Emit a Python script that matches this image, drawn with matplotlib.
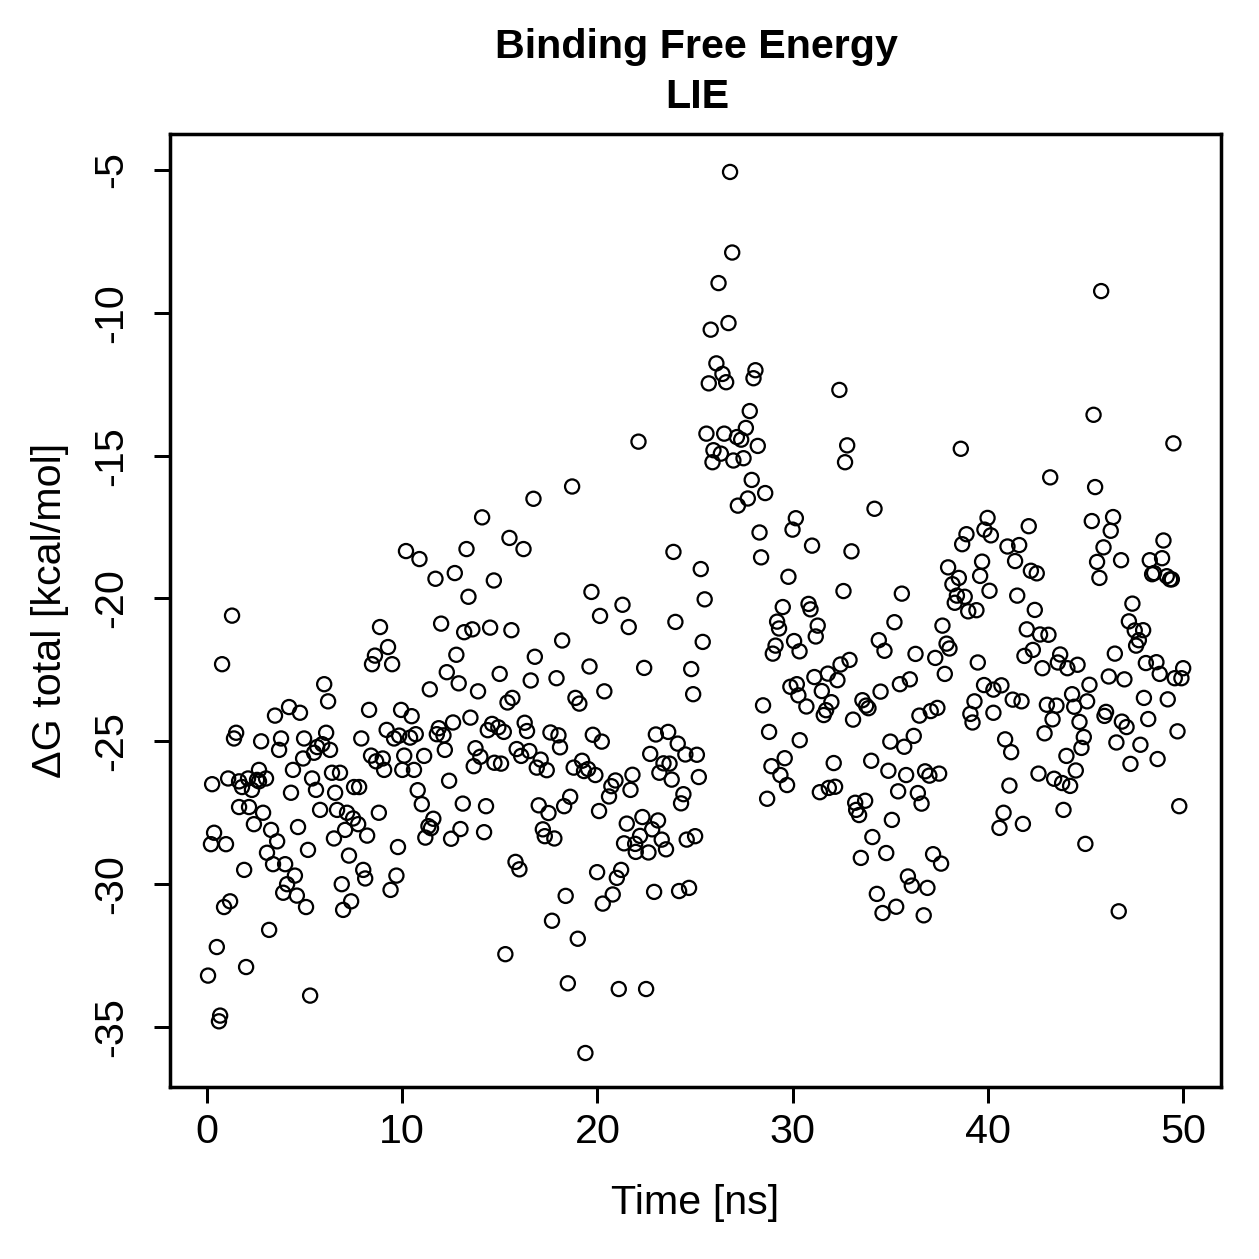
import matplotlib
matplotlib.use("Agg")
import matplotlib.pyplot as plt

# time [ns] and dG total [kcal/mol], 0-10 ns
t_a = [0.05, 0.2, 0.26, 0.36, 0.5, 0.61, 0.67, 0.77, 0.87, 0.97, 1.08, 1.18, 1.28, 1.38, 1.49,
       1.64, 1.64, 1.79, 1.9, 2.0, 2.1, 2.15, 2.3, 2.4, 2.56, 2.66, 2.66, 2.77, 2.87, 3.02,
       3.07, 3.18, 3.28, 3.38, 3.48, 3.59, 3.69, 3.79, 3.9, 4.0, 4.1, 4.2, 4.3, 4.4, 4.5,
       4.6, 4.66, 4.76, 4.92, 4.97, 5.07, 5.17, 5.28, 5.38, 5.48, 5.58, 5.64, 5.79, 5.9, 6.0,
       6.1, 6.2, 6.3, 6.4, 6.5, 6.56, 6.66, 6.81, 6.9, 6.97, 7.07, 7.17, 7.27, 7.38, 7.48,
       7.53, 7.74, 7.79, 7.9, 8.0, 8.1, 8.2, 8.3, 8.4, 8.45, 8.6, 8.66, 8.8, 8.86, 9.0,
       9.07, 9.2, 9.27, 9.4, 9.48, 9.58, 9.7, 9.78, 9.84, 9.94, 10.0, 10.1]
dg_a = [-33.2, -28.6, -26.5, -28.2, -32.2, -34.8, -34.6, -22.3, -30.8, -28.6, -26.3, -30.6, -20.6, -24.9, -24.7,
        -26.4, -27.3, -26.6, -29.5, -32.9, -26.3, -27.3, -26.7, -27.9, -26.35, -26.0, -26.4, -25.0, -27.5, -26.3,
        -28.9, -31.6, -28.1, -29.3, -24.1, -28.5, -25.3, -24.9, -30.3, -29.3, -30.0, -23.8, -26.8, -26.0, -29.7,
        -30.4, -28.0, -24.0, -25.6, -24.9, -30.8, -28.8, -33.9, -26.3, -25.4, -26.7, -25.2, -27.4, -25.1, -23.0,
        -24.7, -23.6, -25.3, -26.1, -28.4, -26.8, -27.4, -26.1, -30.0, -30.9, -28.1, -27.5, -29.0, -30.6, -27.7,
        -26.6, -27.9, -26.6, -24.9, -29.5, -29.8, -28.3, -23.9, -25.5, -22.3, -22.0, -25.7, -27.5, -21.0, -25.6,
        -26.0, -24.6, -21.7, -30.2, -22.3, -24.9, -29.7, -28.7, -24.8, -23.9, -26.0, -25.5]

# 10-20 ns
t_b = [18.70, 16.72, 14.09, 15.49, 16.21, 10.19, 10.88, 13.29, 12.69, 11.70, 14.69, 13.39, 19.69, 20.13,
       11.99, 13.17, 13.59, 14.50, 15.59, 18.19, 12.77, 16.79, 12.28, 12.89, 14.99, 19.59, 11.41, 13.88,
       16.58, 17.90, 15.64, 15.39, 18.87, 19.07, 20.35, 10.48, 12.60, 13.49, 11.87, 11.77, 12.11, 10.40,
       10.69, 14.38, 14.60, 14.92, 15.20, 16.27, 16.39, 17.59, 18.00, 18.08, 19.76, 20.22, 12.18, 13.75,
       14.00, 13.66, 14.72, 15.06, 15.86, 16.09, 16.51, 17.09, 16.89, 17.40, 18.78, 19.21, 19.31, 19.52,
       19.89, 11.12, 10.60, 12.40, 10.79, 11.00, 13.10, 14.29, 11.59, 11.34, 11.47, 11.18, 12.98, 12.50,
       14.19, 16.99, 17.49, 18.29, 18.60, 17.20, 17.30, 17.79, 20.08, 15.80, 16.00, 19.98, 18.37, 20.27,
       17.67, 18.99, 15.28, 18.48, 19.38]
dg_b = [-16.08, -16.51, -17.16, -17.88, -18.27, -18.34, -18.62, -18.27, -19.11, -19.31, -19.37, -19.94, -19.77, -20.61,
        -20.88, -21.18, -21.08, -21.02, -21.11, -21.47, -21.97, -22.04, -22.58, -22.97, -22.64, -22.38, -23.18, -23.25,
        -22.87, -22.79, -23.48, -23.64, -23.48, -23.68, -23.25, -24.12, -24.34, -24.17, -24.54, -24.75, -24.79, -24.87,
        -24.75, -24.61, -24.39, -24.51, -24.67, -24.35, -24.64, -24.69, -24.79, -25.21, -24.77, -25.01, -25.30, -25.24,
        -25.54, -25.87, -25.75, -25.78, -25.27, -25.51, -25.34, -25.64, -25.92, -26.01, -25.92, -25.68, -26.04, -25.97,
        -26.18, -25.51, -26.00, -26.38, -26.71, -27.20, -27.18, -27.27, -27.71, -27.97, -28.04, -28.37, -28.07, -28.41,
        -28.18, -27.24, -27.51, -27.27, -26.94, -28.08, -28.32, -28.40, -27.44, -29.22, -29.48, -29.58, -30.41, -30.68,
        -31.28, -31.91, -32.45, -33.47, -35.91]

# 20-30 ns
t_c = [22.10, 26.79, 26.90, 26.20, 26.71, 25.80, 26.09, 26.40, 25.70, 26.59, 28.09, 27.99, 27.80,
       25.58, 26.49, 27.60, 27.14, 27.36, 28.21, 25.94, 26.32, 25.89, 26.96, 27.48,
       27.90, 28.59, 27.70, 27.19, 30.16, 29.99, 28.30, 28.38, 23.89, 25.29, 25.49, 29.78, 29.49,
       29.20, 29.30, 30.07, 30.35, 29.12, 28.98, 21.28, 21.60, 23.99, 25.39, 22.39, 24.80, 24.90,
       28.48, 28.79, 29.88, 30.21, 30.29, 22.99, 23.62, 24.11, 24.50, 25.09, 22.70, 23.17, 23.38,
       23.69, 23.80, 25.19, 24.40, 24.28, 20.92, 20.71, 20.59, 21.79, 21.69, 21.50, 22.30, 23.10,
       22.80, 21.36, 21.93, 22.18, 21.96, 22.61, 23.29, 23.51, 24.57, 25.00, 28.91, 29.59, 29.37,
       29.71, 28.69, 30.36, 21.21, 20.99, 20.78, 22.90, 24.18, 24.69, 21.09, 22.49]
dg_c = [-14.51, -5.07, -7.89, -8.96, -10.36, -10.59, -11.77, -12.14, -12.47, -12.43, -12.01, -12.29, -13.44,
        -14.23, -14.23, -14.03, -14.35, -14.44, -14.66, -14.81, -14.93, -15.23, -15.17, -15.09,
        -15.85, -16.31, -16.50, -16.75, -17.19, -17.59, -17.69, -18.56, -18.37, -18.97, -20.03, -19.24, -20.30,
        -20.81, -21.05, -21.49, -21.85, -21.65, -21.93, -20.22, -21.00, -20.82, -21.52, -22.43, -22.47, -23.35,
        -23.74, -24.67, -23.09, -23.00, -23.39, -24.76, -24.67, -25.08, -25.46, -25.47, -25.44, -26.10, -25.77,
        -25.78, -26.34, -26.25, -26.85, -27.17, -26.37, -26.57, -26.93, -26.17, -26.70, -27.88, -27.65, -27.77,
        -28.08, -28.57, -28.59, -28.31, -28.87, -28.89, -28.44, -28.78, -28.44, -28.32, -25.87, -25.59, -26.18,
        -26.53, -27.01, -24.96, -29.50, -29.78, -30.36, -30.27, -30.24, -30.13, -33.67, -33.67]

# 30-40 ns
t_d = [32.39, 32.79, 32.68, 38.61, 34.19, 30.99, 33.01, 32.60, 35.59, 39.98, 39.82, 40.15, 38.90, 38.68,
       39.70, 39.60, 37.96, 38.51, 38.18, 38.81, 38.41, 38.30, 38.99, 39.41, 40.08, 30.81, 30.91, 31.28,
       31.18, 35.21, 34.41, 34.70, 37.67, 37.88, 38.03, 36.29, 37.30, 37.79, 39.48, 39.80, 40.28, 39.31,
       39.10, 39.21, 40.28, 32.45, 32.91, 31.80, 32.29, 31.11, 31.49, 30.70, 31.98, 31.71, 31.59, 33.57,
       33.76, 33.88, 34.50, 33.09, 35.49, 36.00, 36.49, 37.07, 37.41, 32.10, 31.39, 31.85, 32.17, 33.20,
       33.25, 33.40, 33.71, 34.02, 35.00, 35.71, 36.20, 34.90, 35.81, 35.40, 36.41, 36.60, 36.78, 37.00,
       37.50, 35.08, 34.08, 33.49, 34.79, 37.19, 37.60, 35.90, 36.10, 36.90, 34.31, 34.60, 35.30, 36.71]
dg_d = [-12.70, -14.64, -15.23, -14.76, -16.86, -18.15, -18.35, -19.74, -19.83, -17.18, -17.59, -17.79, -17.75, -18.10,
        -18.71, -19.21, -18.91, -19.28, -19.50, -19.94, -19.90, -20.15, -20.45, -20.41, -19.73, -20.19, -20.38, -20.95,
        -21.33, -20.83, -21.46, -21.83, -20.95, -21.58, -21.75, -21.94, -22.08, -22.64, -22.24, -23.03, -23.19, -23.60,
        -24.04, -24.34, -24.00, -22.31, -22.15, -22.63, -22.86, -22.75, -23.24, -23.78, -23.63, -23.91, -24.08, -23.56,
        -23.75, -23.84, -23.26, -24.24, -23.00, -22.83, -24.10, -23.94, -23.83, -25.76, -26.78, -26.63, -26.59, -27.15,
        -27.40, -27.58, -27.08, -25.68, -25.01, -25.19, -24.81, -26.03, -26.18, -26.75, -26.81, -27.18, -26.05, -26.20,
        -26.13, -27.75, -28.35, -29.08, -28.91, -28.95, -29.28, -29.73, -30.05, -30.13, -30.34, -31.01, -30.79, -31.09]

# 40-50 ns
t_e = [45.80, 45.41, 49.50, 43.19, 45.49, 42.09, 41.00, 41.60, 41.39, 42.20, 42.50, 41.50, 42.40, 41.99,
       42.67, 43.10, 42.30, 41.87, 42.79, 43.70, 43.58, 44.07, 44.59, 45.32, 46.41, 46.29, 45.92, 45.59,
       45.71, 46.82, 48.99, 48.92, 48.29, 48.41, 49.16, 49.33, 49.42, 48.51, 47.40, 47.22, 47.52, 47.95,
       47.73, 47.59, 46.50, 46.19, 46.99, 48.09, 48.63, 48.80, 50.00, 49.57, 49.91, 45.20, 44.31, 44.42,
       45.08, 43.02, 43.51, 43.31, 42.90, 44.69, 44.91, 44.79, 46.05, 45.97, 46.86, 47.10, 47.99, 48.21,
       49.21, 49.71, 46.58, 47.81, 47.30, 48.69, 40.69, 41.27, 41.72, 40.88, 41.19, 41.10, 42.59, 43.39,
       43.80, 44.21, 44.50, 44.02, 40.80, 40.59, 41.79, 43.87, 44.99, 49.80, 46.70]
dg_e = [-9.24, -13.57, -14.57, -15.76, -16.10, -17.47, -18.18, -18.13, -18.69, -19.03, -19.12, -19.90, -20.40, -21.08,
        -21.26, -21.27, -21.80, -22.01, -22.44, -21.96, -22.24, -22.44, -22.32, -17.29, -17.15, -17.63, -18.21, -18.72,
        -19.28, -18.66, -17.97, -18.59, -18.66, -19.15, -19.22, -19.33, -19.33, -19.11, -20.18, -20.80, -21.12, -21.11,
        -21.46, -21.65, -21.93, -22.73, -22.83, -22.26, -22.23, -22.64, -22.44, -22.79, -22.79, -23.02, -23.35, -23.79,
        -23.60, -23.72, -23.75, -24.23, -24.72, -24.32, -24.85, -25.23, -23.97, -24.11, -24.31, -24.50, -23.48, -24.22,
        -23.53, -24.65, -25.04, -25.12, -25.79, -25.62, -23.04, -23.54, -23.60, -24.93, -25.38, -26.55, -26.13, -26.31,
        -26.46, -26.56, -26.02, -25.51, -27.50, -28.03, -27.89, -27.40, -28.59, -27.27, -30.95]

time = t_a + t_b + t_c + t_d + t_e
dg = dg_a + dg_b + dg_c + dg_d + dg_e

x_ticks = [0, 10, 20, 30, 40, 50]
y_ticks = [-35, -30, -25, -20, -15, -10, -5]

plt.rcParams['font.family'] = ['Liberation Sans', 'DejaVu Sans']
fs = 16.5

fig = plt.figure(figsize=(1259 / 180, 1259 / 180), dpi=180)
ax = fig.add_axes([0.135, 0.1366, 0.835, 0.757])

ax.scatter(time, dg, s=32, facecolors='none', edgecolors='black', linewidths=0.9)

ax.set_xlim(-1.9, 51.95)
ax.set_ylim(-37.1, -3.74)
ax.set_xticks(x_ticks)
ax.set_yticks(y_ticks)
ax.set_yticklabels([str(v) for v in y_ticks], rotation=90, va='center')
ax.tick_params(direction='out', length=6.4, width=1.2, labelsize=fs)
ax.tick_params(axis='x', pad=4.0)
ax.tick_params(axis='y', pad=9.5)
for sp in ax.spines.values():
    sp.set_linewidth(1.4)

ax.set_xlabel('Time [ns]', fontsize=fs, va='center')
ax.xaxis.set_label_coords(0.5, -0.1217)
ax.set_ylabel('\u0394G total [kcal/mol]', fontsize=fs, va='center')
ax.yaxis.set_label_coords(-0.1142, 0.5)

fig.text(0.5536, 0.9628, 'Binding Free Energy', ha='center', va='center', fontsize=fs, fontweight='bold')
fig.text(0.5536, 0.9228, 'LIE', ha='center', va='center', fontsize=fs, fontweight='bold')

fig.savefig('out.png', dpi=180)
